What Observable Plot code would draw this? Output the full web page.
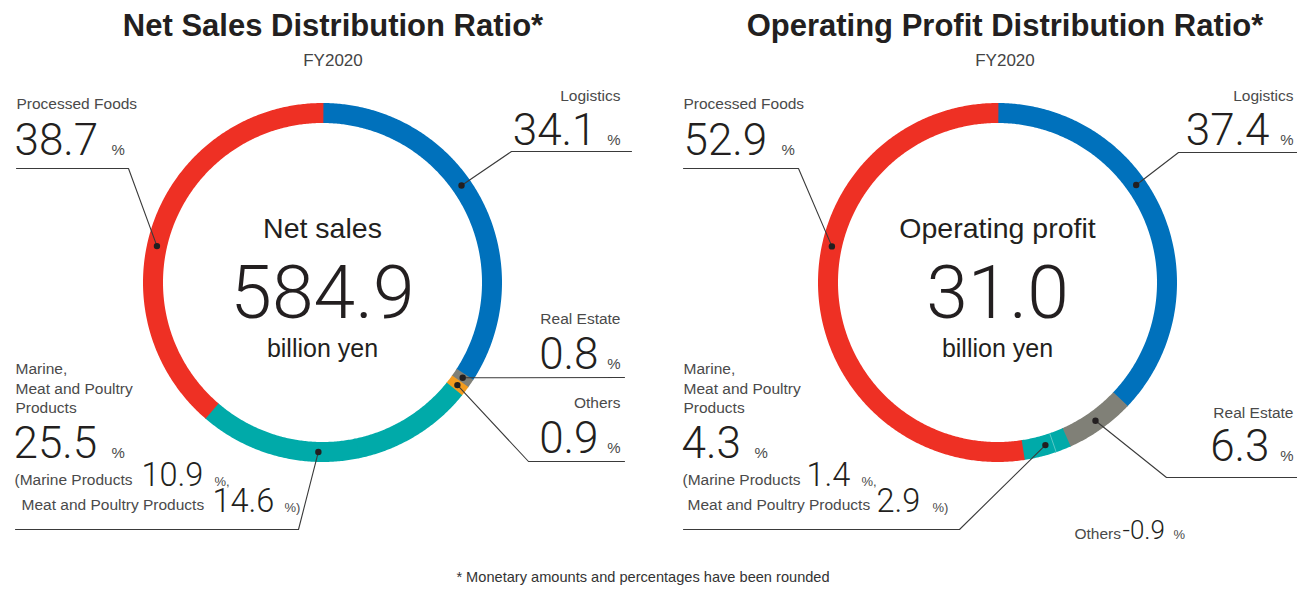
<!DOCTYPE html>
<html><head><meta charset="utf-8">
<script src="https://cdn.jsdelivr.net/npm/d3@7"></script>
<script src="https://cdn.jsdelivr.net/npm/@observablehq/plot@0.6"></script>
<style>
body{margin:0;background:#fff;}
#wrap{position:relative;width:1297px;height:589px;overflow:hidden;font-family:"Liberation Sans",Arial,sans-serif;background:#fff;}
.title{position:absolute;top:10px;width:640px;text-align:center;font-weight:700;font-size:31px;line-height:31px;color:#231f20;}
.sub{position:absolute;top:52px;width:640px;text-align:center;font-size:17px;line-height:17px;color:#444;}
#chart{position:absolute;left:0;top:72px;}
#foot{position:absolute;left:0;width:1286px;top:570px;text-align:center;font-family:"Liberation Sans",Arial,sans-serif;font-size:14.6px;line-height:14px;color:#333;}
</style></head>
<body><div id="wrap"></div>
<script>
// ---------- data ----------
const segments = ["Logistics", "Real Estate", "Others", "Marine Products", "Meat and Poultry Products", "Processed Foods"];
const salesShare = [34.1, 0.8, 0.9, 10.9, 14.6, 38.7];
const profitShare = [37.4, 6.3, -0.9, 1.4, 2.9, 52.9];
const segmentColors = ["#0071bc", "#808077", "#f39c1f", "#00aaa9", "#00aaa9", "#ee3024"];
const chartTitles = ["Net Sales Distribution Ratio*", "Operating Profit Distribution Ratio*"];
const fiscalYear = "FY2020";
const centerLabels = ["Net sales", "Operating profit"];
const centerValues = ["584.9", "31.0"];
const centerUnit = "billion yen";
const footnote = "* Monetary amounts and percentages have been rounded";

// ---------- layout ----------
const R_OUT = 179.5, R_IN = 159.5, R_MID = 169.5;
const fmt = v => v.toFixed(1);
const wrap = document.getElementById("wrap");
[[13, 0], [685, 1]].forEach(([left, i]) => {
  const t = document.createElement("div"); t.className = "title"; t.style.left = left + "px"; t.textContent = chartTitles[i]; wrap.appendChild(t);
  const s = document.createElement("div"); s.className = "sub"; s.style.left = left + "px"; s.textContent = fiscalYear; wrap.appendChild(s);
});
const foot = document.createElement("div"); foot.id = "foot"; foot.textContent = footnote; wrap.appendChild(foot);

const pt = (cx, cy, r, a) => ({x: cx + r * Math.sin(a * Math.PI / 180), y: cy - r * Math.cos(a * Math.PI / 180)});

function slices(values, cx, cy) {
  const total = d3.sum(values, v => Math.max(0, v));
  let acc = 0; const out = [];
  values.forEach((v, i) => {
    if (v <= 0) return;
    const a0 = acc / total * 360, a1 = (acc + v) / total * 360; acc += v;
    const a1e = a1 + 0.3;
    const n = Math.max(2, Math.ceil((a1e - a0) / 0.5));
    const poly = [];
    for (let k = 0; k <= n; k++) poly.push(pt(cx, cy, R_OUT, a0 + (a1e - a0) * k / n));
    for (let k = n; k >= 0; k--) poly.push(pt(cx, cy, R_IN, a0 + (a1e - a0) * k / n));
    out.push({i, a0, a1, mid: (a0 + a1) / 2, poly, color: segmentColors[i]});
  });
  return out;
}

const panels = [
  {cx: 322, cy: 282, values: salesShare, divider: false},
  {cx: 997, cy: 282, values: profitShare, divider: true}
];
panels.forEach(p => p.sl = slices(p.values, p.cx, p.cy));
const angleOf = (p, i) => p.sl.find(s => s.i === i).mid;

// leader specs: [panel, dot angle, path after dot]
const leaders = [
  [0, 282.4, [[128, 168], [16, 168]]],
  [0, 55.1, [[511, 151], [631, 151]]],
  [0, angleOf(panels[0], 1), [[624, 377]]],
  [0, angleOf(panels[0], 2), [[528, 461], [624, 461]]],
  [0, 181.4, [[298, 529], [15, 529]]],
  [1, 282.3, [[798, 168], [683, 168]]],
  [1, 54.9, [[1178, 152], [1297, 152]]],
  [1, angleOf(panels[1], 1), [[1166, 477], [1297, 477]]],
  [1, (panels[1].sl.find(s => s.i === 3).a0 + panels[1].sl.find(s => s.i === 4).a1) / 2, [[959, 529], [683, 529]]]
];
const leaderRows = [], dotRows = [];
leaders.forEach(([pi, ang, path], k) => {
  const p = panels[pi];
  const d = pt(p.cx, p.cy, R_MID, ang);
  dotRows.push(d);
  leaderRows.push({id: k, ...d});
  path.forEach(([x, y]) => leaderRows.push({id: k, x, y}));
});

// texts
const S = salesShare, P = profitShare;
const labelTexts = [
  {x: 16, y: 108, t: "Processed Foods", a: "start"},
  {x: 620, y: 100, t: segments[0], a: "end"},
  {x: 620, y: 323, t: segments[1], a: "end"},
  {x: 620, y: 407, t: segments[2], a: "end"},
  {x: 15, y: 373, t: "Marine,", a: "start"},
  {x: 15, y: 393, t: "Meat and Poultry", a: "start"},
  {x: 15, y: 412, t: "Products", a: "start"},
  {x: 14, y: 484, t: "(" + segments[3], a: "start"},
  {x: 21, y: 509, t: segments[4], a: "start"},
  {x: 683, y: 108, t: "Processed Foods", a: "start"},
  {x: 1293, y: 100, t: segments[0], a: "end"},
  {x: 1293, y: 417, t: segments[1], a: "end"},
  {x: 683, y: 373, t: "Marine,", a: "start"},
  {x: 683, y: 393, t: "Meat and Poultry", a: "start"},
  {x: 683, y: 412, t: "Products", a: "start"},
  {x: 682, y: 484, t: "(" + segments[3], a: "start"},
  {x: 687, y: 509, t: segments[4], a: "start"},
  {x: 1074, y: 538, t: segments[2], a: "start"}
];
const pctTexts = [
  {x: 111, y: 154, t: "%", a: "start", s: 15},
  {x: 620, y: 144, t: "%", a: "end", s: 15},
  {x: 620, y: 368, t: "%", a: "end", s: 15},
  {x: 620, y: 452, t: "%", a: "end", s: 15},
  {x: 111, y: 457, t: "%", a: "start", s: 15},
  {x: 214, y: 485, t: "%,", a: "start", s: 13},
  {x: 284, y: 511, t: "%)", a: "start", s: 13},
  {x: 781, y: 154, t: "%", a: "start", s: 15},
  {x: 1293, y: 144, t: "%", a: "end", s: 15},
  {x: 1293, y: 460, t: "%", a: "end", s: 15},
  {x: 754, y: 457, t: "%", a: "start", s: 15},
  {x: 861, y: 485, t: "%,", a: "start", s: 13},
  {x: 932, y: 511, t: "%)", a: "start", s: 13},
  {x: 1173, y: 538, t: "%", a: "start", s: 13}
];
const numTexts = [
  {x: 14, y: 154, t: fmt(S[5]), a: "start", s: 44},
  {x: 596, y: 144, t: fmt(S[0]), a: "end", s: 44},
  {x: 598, y: 368, t: fmt(S[1]), a: "end", s: 44},
  {x: 598, y: 452, t: fmt(S[2]), a: "end", s: 44},
  {x: 13, y: 457, t: fmt(S[3] + S[4]), a: "start", s: 44},
  {x: 141, y: 485, t: fmt(S[3]), a: "start", s: 32.5},
  {x: 212, y: 511, t: fmt(S[4]), a: "start", s: 32.5},
  {x: 683, y: 154, t: fmt(P[5]), a: "start", s: 44},
  {x: 1269, y: 144, t: fmt(P[0]), a: "end", s: 44},
  {x: 1269, y: 460, t: fmt(P[1]), a: "end", s: 44},
  {x: 681, y: 457, t: fmt(P[3] + P[4]), a: "start", s: 44},
  {x: 806, y: 485, t: fmt(P[3]), a: "start", s: 32.5},
  {x: 876, y: 511, t: fmt(P[4]), a: "start", s: 32.5},
  {x: 1122, y: 538, t: fmt(P[2]), a: "start", s: 26}
];
const centerTexts = [], centerNums = [];
panels.forEach((p, i) => {
  centerTexts.push({x: p.cx, y: 237, t: centerLabels[i], s: 28.5});
  centerTexts.push({x: p.cx, y: 356, t: centerUnit, s: 25});
  centerNums.push({x: p.cx, y: 317, t: centerValues[i], s: 75});
});

// marks
const marks = [];
panels.forEach(p => {
  p.sl.forEach(s => marks.push(Plot.line(s.poly, {x: "x", y: "y", fill: s.color, stroke: "none"})));
  if (p.divider) {
    const b = p.sl.find(s => s.i === 3).a1;
    marks.push(Plot.line([pt(p.cx, p.cy, R_IN, b), pt(p.cx, p.cy, R_OUT, b)], {x: "x", y: "y", stroke: "#fff", strokeOpacity: 0.35, strokeWidth: 1}));
  }
});
marks.push(Plot.line(leaderRows, {x: "x", y: "y", z: "id", stroke: "#3a3a3a", strokeWidth: 1.1}));
marks.push(Plot.dot(dotRows, {x: "x", y: "y", r: 3.2, fill: "#231f20", stroke: "none"}));
const SANS = "Liberation Sans, Arial, sans-serif", THIN = "Roboto, Liberation Sans, sans-serif";
const tx = (rows, opts) => ["start", "end", "middle"].map(anchor =>
  Plot.text(rows.filter(d => (d.a || "middle") === anchor), {x: "x", y: "y", text: "t", lineAnchor: "bottom", textAnchor: anchor, ...opts}));
marks.push(...tx(labelTexts, {fontSize: 15.5, fontFamily: SANS, fill: "#4a4a4a"}));
marks.push(...tx(pctTexts, {fontSize: "s", fontFamily: SANS, fill: "#4a4a4a"}));
marks.push(...tx(numTexts, {fontSize: "s", fontFamily: THIN, fontWeight: 300, fill: "#231f20"}));
marks.push(...tx(centerTexts, {fontSize: "s", fontFamily: SANS, fill: "#231f20"}));
marks.push(...tx(centerNums, {fontSize: "s", fontFamily: THIN, fontWeight: 300, fill: "#231f20"}));

const chart = Plot.plot({
  width: 1297, height: 490,
  margin: 0,
  x: {domain: [0, 1297], range: [0, 1297], axis: null},
  y: {domain: [72, 562], range: [0, 490], axis: null},
  style: {background: "#fff", overflow: "visible"},
  marks
});
chart.id = "chart";
wrap.appendChild(chart);
</script>
</body></html>
